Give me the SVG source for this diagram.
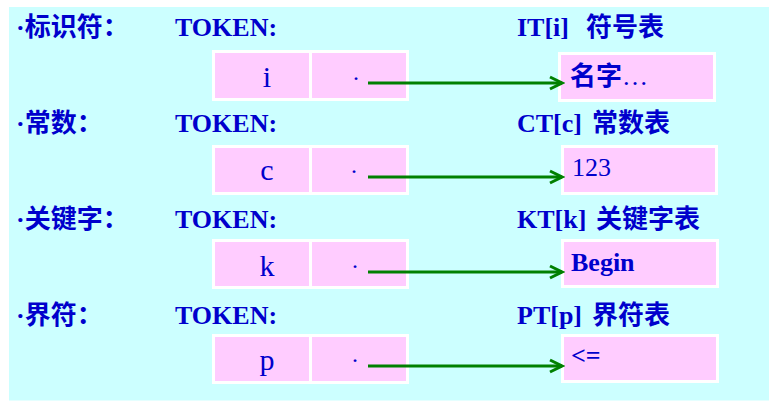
<svg xmlns="http://www.w3.org/2000/svg" width="769" height="404" viewBox="0 0 769 404">
<defs>
<style>
.bg{fill:#CCFFFF}
.cell{fill:#FFCCFF;stroke:#FFFFFF;stroke-width:3}
.lbl{font-family:"Liberation Serif","Noto Sans CJK SC",serif;font-size:26px;font-weight:bold;fill:#0000CC}
.cj{font-family:"Noto Sans CJK SC",sans-serif;font-weight:bold}
.el{font-family:"Liberation Serif",serif;font-weight:normal}
.val{font-family:"Liberation Serif","Noto Sans CJK SC",serif;font-size:30px;fill:#0000CC;text-anchor:middle}
.dot{font-family:"Liberation Serif",serif;font-size:24px;fill:#0000CC;text-anchor:middle}
.ent{font-family:"Liberation Serif","Noto Sans CJK SC",serif;font-size:26px;fill:#0000CC}
.arr{stroke:#008000;stroke-width:3;fill:none;marker-end:url(#ah)}
</style>
<marker id="ah" markerUnits="userSpaceOnUse" markerWidth="16" markerHeight="16" refX="13" refY="7" orient="auto" viewBox="0 0 16 14">
<path d="M1,1 L13,7 L1,13" fill="none" stroke="#008000" stroke-width="3"/>
</marker>
</defs>
<rect class="bg" x="9" y="7" width="760" height="393.5"/>

<g id="row-identifier">
<text class="lbl" x="16" y="36">·<tspan class="cj">标识符：</tspan></text>
<text class="lbl" x="175" y="36">TOKEN:</text>
<text class="lbl" x="517" y="36">IT[i] <tspan class="cj" x="586">符号表</tspan></text>
</g>
<g id="token-i">
<rect class="cell" x="213.5" y="51.5" width="97" height="48"/>
<rect class="cell" x="310.5" y="51.5" width="97" height="48"/>
<text class="val" x="267" y="87">i</text>
<text class="dot" x="356" y="86">·</text>
</g>
<g id="table-it">
<rect class="cell" x="559.5" y="53.5" width="155" height="47"/>
<text class="ent cj" x="570" y="85">名字<tspan class="el">…</tspan></text>
</g>

<g id="row-constant">
<text class="lbl" x="16" y="132">·<tspan class="cj">常数：</tspan></text>
<text class="lbl" x="175" y="132">TOKEN:</text>
<text class="lbl" x="517" y="132">CT[c] <tspan class="cj" x="592">常数表</tspan></text>
</g>
<g id="token-c">
<rect class="cell" x="213.5" y="146.5" width="97" height="47"/>
<rect class="cell" x="310.5" y="146.5" width="97" height="47"/>
<text class="val" x="267" y="180">c</text>
<text class="dot" x="354" y="179">·</text>
</g>
<g id="table-ct">
<rect class="cell" x="562.5" y="146.5" width="154" height="47"/>
<text class="ent" x="572" y="176" font-size="27">123</text>
</g>

<g id="row-keyword">
<text class="lbl" x="16" y="228">·<tspan class="cj">关键字：</tspan></text>
<text class="lbl" x="175" y="228">TOKEN:</text>
<text class="lbl" x="517" y="228">KT[k] <tspan class="cj" x="596">关键字表</tspan></text>
</g>
<g id="token-k">
<rect class="cell" x="213.5" y="240.5" width="97" height="47"/>
<rect class="cell" x="310.5" y="240.5" width="97" height="47"/>
<text class="val" x="267" y="276">k</text>
<text class="dot" x="355" y="274">·</text>
</g>
<g id="table-kt">
<rect class="cell" x="562.5" y="240.5" width="155" height="46"/>
<text class="ent" x="571" y="271" font-weight="bold">Begin</text>
</g>

<g id="row-delimiter">
<text class="lbl" x="16" y="324">·<tspan class="cj">界符：</tspan></text>
<text class="lbl" x="175" y="324">TOKEN:</text>
<text class="lbl" x="517" y="324">PT[p] <tspan class="cj" x="592">界符表</tspan></text>
</g>
<g id="token-p">
<rect class="cell" x="213.5" y="335.5" width="97" height="47"/>
<rect class="cell" x="310.5" y="335.5" width="97" height="47"/>
<text class="val" x="267" y="370">p</text>
<text class="dot" x="355" y="368">·</text>
</g>
<g id="table-pt">
<rect class="cell" x="562.5" y="335.5" width="155" height="46"/>
<text class="ent" x="571" y="364" font-weight="bold" font-size="28">&lt;=</text>
</g>

<g id="connectors">
<line class="arr" x1="368" y1="83" x2="562" y2="83"/>
<line class="arr" x1="368" y1="177" x2="562" y2="177"/>
<line class="arr" x1="368" y1="272" x2="562" y2="272"/>
<line class="arr" x1="368" y1="366" x2="562" y2="366"/>
</g>
</svg>
